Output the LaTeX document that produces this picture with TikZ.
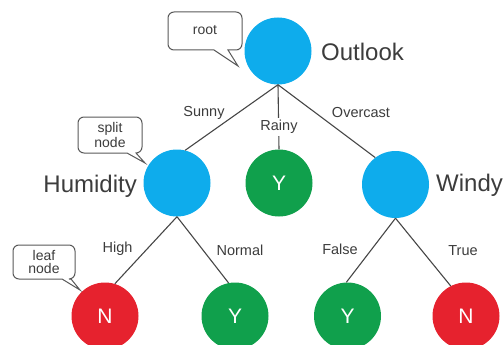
\documentclass[tikz,border=0pt]{standalone}
\usepackage{fontspec}
\setmainfont{Liberation Sans}
\definecolor{nblue}{RGB}{14,172,236}
\definecolor{ngreen}{RGB}{16,160,76}
\definecolor{nred}{RGB}{230,34,46}
\definecolor{ink}{RGB}{60,60,60}
\definecolor{edgec}{RGB}{70,70,70}
\tikzset{
  dnode/.style={circle,minimum size=67pt,inner sep=0pt,text=white,font=\fontsize{21}{21}\selectfont},
  decn/.style={dnode,fill=nblue},
  yes/.style={dnode,fill=ngreen},
  no/.style={dnode,fill=nred},
  attr/.style={text=ink,font=\fontsize{24}{24}\selectfont,inner sep=0pt},
  elab/.style={text=ink,font=\fontsize{14.5}{14.5}\selectfont,inner sep=1pt},
  conn/.style={draw=edgec,line width=1.1pt},
  callout/.style={draw=edgec!90,line width=1pt,fill=white},
  ctext/.style={text=ink,font=\fontsize{14}{12.5}\selectfont,align=center,inner sep=0pt}
}
\begin{document}
\begin{tikzpicture}[x=1pt,y=-1pt]
\useasboundingbox (0,0) rectangle (503,345);
\begin{scope}
\clip (0,0) rectangle (503,345);
% nodes
\node[decn] (outlook) at (278,51) {};
\node[decn] (humidity) at (177,183) {};
\node[yes] (rainy) at (279,183) {Y};
\node[decn] (windy) at (395.5,184.5) {};
\node[no] (hn) at (105,316) {N};
\node[yes] (hy) at (235,316) {Y};
\node[yes] (wy) at (347.5,316) {Y};
\node[no] (wn) at (466,316) {N};
% connectors
\draw[conn] (outlook.south) -- (humidity.76);
\draw[conn] (outlook.south) -- (rainy.north);
\draw[conn] (outlook.south) -- (windy.127);
\draw[conn] (humidity.south) -- (hn.73);
\draw[conn] (humidity.south) -- (hy.101);
\draw[conn] (windy.south) -- (wy.92);
\draw[conn] (windy.south) -- (wn.117);
\end{scope}
% edge labels
\node[elab] (lsunny) at (204,113) {Sunny};
\node[elab,fill=white,inner ysep=2pt] (lrainy) at (279,127) {Rainy};
\node[elab] (lover) at (361,113) {Overcast};
\node[elab] (lhigh) at (117.5,249) {High};
\node[elab] (lnormal) at (240,250) {Normal};
\node[elab] (lfalse) at (340,249) {False};
\node[elab] (ltrue) at (463,251) {True};
% attribute names
\node[attr,anchor=west] (toutlook) at (321,52) {Outlook};
\node[attr,anchor=east] (thumid) at (137,186) {Humidity};
\node[attr,anchor=west] (twindy) at (436,185) {Windy};
% callouts
\draw[callout] (214,50) [rounded corners=6pt] -- (168,50) -- (168,12) -- (242,12) -- (242,50) [sharp corners] -- (228,50) -- (238,66) -- cycle;
\node[ctext] (croot) at (205,30) {root};
\draw[callout] (127,153) [rounded corners=6pt] -- (78,153) -- (78,117) -- (142,117) -- (142,153) [sharp corners] -- (136,153) -- (145,163) -- cycle;
\node[ctext] (csplit) at (110,135) {split\\node};
\draw[callout] (62,279) [rounded corners=6pt] -- (13,279) -- (13,245) -- (75,245) -- (75,279) [sharp corners] -- (71,279) -- (80,290) -- cycle;
\node[ctext] (cleaf) at (44,262) {leaf\\node};
\end{tikzpicture}
\end{document}
